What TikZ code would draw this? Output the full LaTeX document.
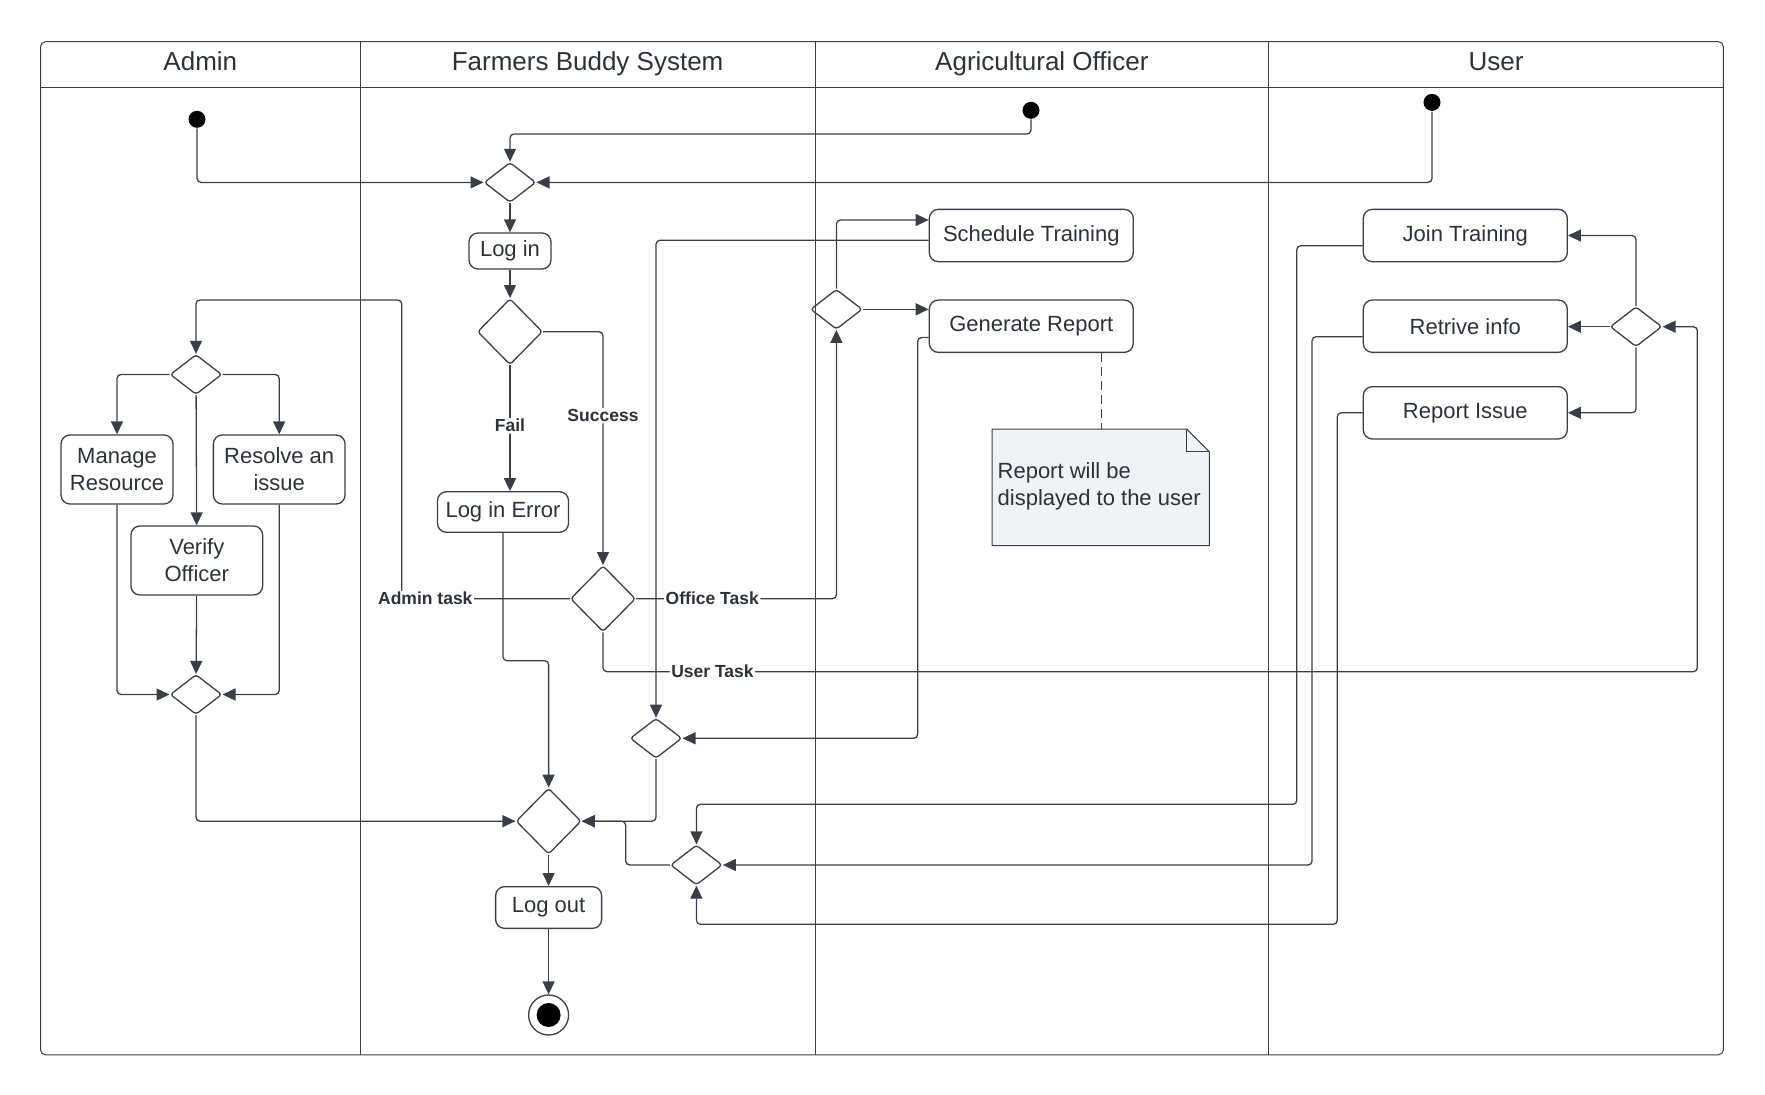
\documentclass[tikz,border=0pt]{standalone}
\usepackage{fontspec}
\setmainfont{Liberation Sans}
\usetikzlibrary{arrows.meta,shapes.geometric}
\definecolor{ink}{RGB}{58,63,71}
\definecolor{txt}{RGB}{45,50,58}
\definecolor{notefill}{RGB}{240,242,245}
\begin{document}
\begin{tikzpicture}[x=1pt,y=-1pt,color=ink,line width=1.3pt,>={Triangle[length=13pt,width=12pt]},
		act/.style={draw,rounded corners=9pt,inner sep=0pt,align=center,text=txt,font=\fontsize{22pt}{27pt}\selectfont},
		dec/.style={draw,diamond,rounded corners=3pt,inner sep=0pt,minimum width=51.7pt,minimum height=40pt},
		bigdec/.style={dec,minimum width=65pt,minimum height=66pt},
		init/.style={circle,fill=black,inner sep=0pt,minimum size=17pt},
		lab/.style={fill=white,inner sep=1.5pt,text=txt,font=\fontsize{17.5pt}{21pt}\selectfont\bfseries},
		hdr/.style={anchor=base,text=txt,font=\fontsize{26pt}{31pt}\selectfont},
		flow/.style={->,rounded corners=4pt},
		lane/.style={line width=1pt}]
	\useasboundingbox (0,0) rectangle (1765,1095);
	\draw[lane,rounded corners=5pt] (40.5,41.7) rectangle (1723.4,1054.8);
	\draw[lane] (40.5,87.8) -- (1723.4,87.8);
	\foreach \x in {360.2,815,1268.7}
		\draw[lane] (\x,41.7) -- (\x,1054.8);
	\node[hdr] (hadmin) at (200.3,70.5) {Admin};
	\node[hdr] (hsys) at (587.6,70.5) {Farmers Buddy System};
	\node[hdr] (hoff) at (1041.9,70.5) {Agricultural Officer};
	\node[hdr] (huser) at (1496,70.5) {User};

	\node[init] (s1) at (197,119.3) {};
	\node[init] (s2) at (1031,110.3) {};
	\node[init] (s3) at (1432,102.4) {};
	\node[dec] (d1) at (510,182.4) {};
	\node[act,minimum width=82pt,minimum height=36pt] (login) at (510,251) {Log in};
	\node[bigdec] (d2) at (510,331.7) {};
	\node[act,minimum width=131pt,minimum height=40.6pt] (logerr) at (503,512) {Log in Error};
	\node[bigdec] (d3) at (603,598.7) {};
	\node[dec] (a1) at (196,374.5) {};
	\node[act,minimum width=112pt,minimum height=69pt] (man) at (117,469.5) {Manage\\Resource};
	\node[act,minimum width=131.7pt,minimum height=69pt] (res) at (279.2,469.5) {Resolve an\\issue};
	\node[act,minimum width=131.7pt,minimum height=69pt] (ver) at (196.8,560.5) {Verify\\Officer};
	\node[dec] (a2) at (196,694.5) {};
	\node[dec] (d4) at (836.4,309.3) {};
	\node[act,minimum width=204pt,minimum height=52.3pt] (sched) at (1031.3,235.5) {Schedule Training};
	\node[act,minimum width=204pt,minimum height=52.3pt] (gen) at (1031.3,326.2) {Generate Report};
	\node[dec] (d6) at (656,738.3) {};
	\node[bigdec] (d5) at (548.6,821.2) {};
	\node[dec] (d7) at (696.4,865) {};
	\node[act,minimum width=106pt,minimum height=41.7pt] (logout) at (548.6,907.5) {Log out};
	\node[circle,draw,inner sep=0pt,minimum size=40pt] (fin) at (548.6,1015) {};
	\fill[black] (fin.center) circle (12pt);
	\node[dec] (u1) at (1636,326.7) {};
	\node[act,minimum width=204pt,minimum height=52.3pt] (join) at (1465.3,235.5) {Join Training};
	\node[act,minimum width=204pt,minimum height=52.3pt] (retr) at (1465.3,326.2) {Retrive info};
	\node[act,minimum width=204pt,minimum height=52.3pt] (rep) at (1465.3,412.8) {Report Issue};

	\draw[lane,fill=notefill] (992,429) -- (1186.6,429) -- (1209.3,451.7) -- (1209.3,545.7) -- (992,545.7) -- cycle;
	\draw[lane] (1186.6,429) -- (1186.6,451.7) -- (1209.3,451.7);
	\node[text=txt,anchor=west,align=left,inner sep=0pt,font=\fontsize{22pt}{27pt}\selectfont] (note) at (997,486) {Report will be\\displayed to the user};
	\coordinate (notetop) at (1101.3,429);
	\draw[dash pattern=on 9pt off 5pt] (gen.south -| notetop) -- (notetop);

	\draw[flow] (s1) |- (d1.west);
	\draw[flow] (s2) -- ++(0,23.7) -| (d1.north);
	\draw[flow] (s3) |- (d1.east);
	\draw[flow] (d1) -- (login);
	\draw[flow] (login) -- (d2);
	\draw[flow,line width=2.2pt] (d2.south) -- (d2.south |- logerr.north) node[lab,pos=0.48] {Fail};
	\draw[flow] (d2.east) -| (d3.north) node[lab,pos=0.68] {Success};
	\draw[flow] (d3.west) -| (401.8,300) node[lab,pos=0.43] {Admin task} -| (a1.north);
	\draw[flow] (d3.east) -| (d4.south) node[lab,pos=0.19] {Office Task};
	\draw[flow] (d3.south) |- (1697.3,671.7) node[lab,pos=0.55] {User Task} |- (u1.east);
	\draw[flow] (a1.west) -| (man.north);
	\draw[flow] (a1.east) -| (res.north);
	\draw[flow] (a1) -- (ver);
	\draw[flow] (man.south) |- (a2.west);
	\draw[flow] (res.south) |- (a2.east);
	\draw[flow] (ver) -- (a2);
	\draw[flow] (a2.south) |- (d5.west);
	\draw[flow] (d4.north) |- ([yshift=15.5pt]sched.west);
	\draw[flow] (d4.east) -- (d4.east -| gen.west);
	\draw[flow] ([yshift=-4.8pt]sched.west) -| (d6.north);
	\draw[flow] ([yshift=-11.3pt]gen.west) -- ++(-11,0) |- (d6.east);
	\draw[flow] (d6.south) |- (d5.east);
	\draw[flow] (d7.west) -- ++(-44.2,0) |- (d5.east);
	\draw[flow] (logerr.south) -- ++(0,127.7) -| (d5.north);
	\draw[flow] (d5) -- (logout);
	\draw[flow] (logout) -- (fin);
	\draw[flow] (u1.north) |- (join.east);
	\draw[flow] (u1.west) -- (u1.west -| retr.east);
	\draw[flow] (u1.south) |- (rep.east);
	\draw[flow] ([yshift=-10.2pt]join.west) -| (1296.8,804.3) -| (d7.north);
	\draw[flow] ([yshift=-10.5pt]retr.west) -- ++(-50.6,0) |- (d7.east);
	\draw[flow] (rep.west) -| (1337.3,924.3) -| (d7.south);
\end{tikzpicture}
\end{document}
